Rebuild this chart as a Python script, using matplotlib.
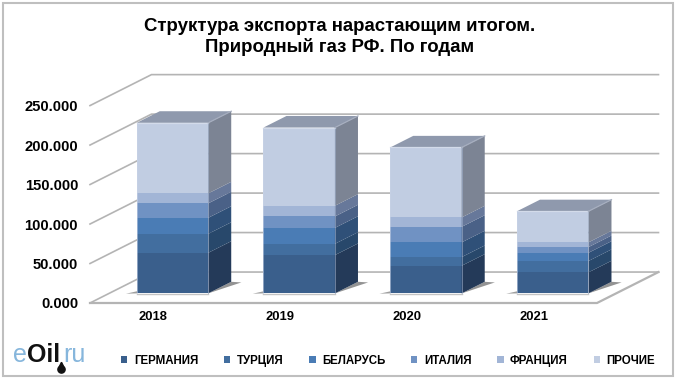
import matplotlib
matplotlib.use("Agg")
import matplotlib.pyplot as plt
from matplotlib.patches import Rectangle
from matplotlib.lines import Line2D
import numpy as np

years = ["2018", "2019", "2020", "2021"]
names = ["ГЕРМАНИЯ", "ТУРЦИЯ", "БЕЛАРУСЬ", "ИТАЛИЯ", "ФРАНЦИЯ", "ПРОЧИЕ"]
germany = [51.4, 48.5, 35.0, 26.6]
turkey = [24.0, 14.3, 11.0, 14.4]
belarus = [20.3, 20.2, 18.6, 10.4]
italy = [18.3, 14.5, 19.7, 7.2]
france = [12.6, 13.5, 11.9, 6.0]
others = [89.4, 99.0, 88.6, 39.4]
series = [germany, turkey, belarus, italy, france, others]
front = ["#3a5f8c", "#426e9f", "#4a7cb5", "#7092c3", "#a2b5d6", "#c1cde2"]
side = ["#243a59", "#28486b", "#2f5078", "#4a6187", "#67789a", "#7c8494"]
top_col = "#8f99ad"
ticks = [0, 50, 100, 150, 200, 250]
grid_c = "#b4b4b4"

plt.rcParams["font.family"] = ["Liberation Sans", "DejaVu Sans"]
W, H = 680, 384
fig = plt.figure(figsize=(W / 100, H / 100), dpi=100, facecolor="white")
ax = fig.add_axes([90 / W, (H - 303) / H, 568 / W, 229 / H])
ax.set_xlim(-0.5, -0.5 + 568 / 126.75)
ax.set_ylim(0, 290)
ax.patch.set_alpha(0)
for s in ax.spines.values():
    s.set_visible(False)

# oblique projection: one full depth of the floor in data units
DX, DY = 0.485, 39.2
D0, D1 = 0.31, 0.685
BW = 0.564
xl, xr = -0.5, 3.5


def pr(x, v, d):
    return x + d * DX, v + d * DY


# walls and floor
for t in ticks:
    a, b, c = pr(xl, t, 0), pr(xl, t, 1), pr(xr, t, 1)
    ax.plot([a[0], b[0], c[0]], [a[1], b[1], c[1]], color=grid_c, lw=1.2, zorder=1,
            clip_on=False, solid_joinstyle="miter")
ax.plot([xl, xr, pr(xr, 0, 1)[0]], [0, 0, pr(xr, 0, 1)[1]], color=grid_c, lw=1.6, zorder=1,
        clip_on=False)

# bars
xs = np.arange(len(years))
for i, x in enumerate(xs):
    l, r = x - BW / 2, x + BW / 2
    # floor shadows
    p1, p2, p3 = pr(r, 0, D0), pr(r + 0.09, 0, D1 - 0.02), pr(r, 0, D1)
    ax.fill([p1[0], p2[0], p3[0]], [p1[1], p2[1], p3[1]], color="#666666", alpha=0.7, lw=0, zorder=2)
    p1, p2, p3 = pr(l - 0.08, 0, D0 - 0.01), pr(l, 0, D0), pr(l, 0, D0 + 0.12)
    ax.fill([p1[0], p2[0], p3[0]], [p1[1], p2[1], p3[1]], color="#777777", alpha=0.7, lw=0, zorder=2)
    p1, p2 = pr(l, -1.0, D0), pr(r, -1.0, D0)
    ax.plot([p1[0], p2[0]], [p1[1], p2[1]], color="#c4c4c4", lw=1.0, zorder=2)
    bottom = 0.0
    for k, vals in enumerate(series):
        v = vals[i]
        ax.bar(pr(x, 0, D0)[0], v, BW, bottom=bottom + D0 * DY, color=front[k], lw=0, zorder=3)
        a = pr(r, bottom, D0); b = pr(r, bottom + v, D0); c = pr(r, bottom + v, D1); d = pr(r, bottom, D1)
        ax.fill([a[0], b[0], c[0], d[0]], [a[1], b[1], c[1], d[1]], color=side[k], lw=0, zorder=3)
        bottom += v
    a = pr(l, bottom, D0); b = pr(r, bottom, D0); c = pr(r, bottom, D1); d = pr(l, bottom, D1)
    ax.fill([a[0], b[0], c[0], d[0]], [a[1], b[1], c[1], d[1]], color=top_col, lw=0, zorder=3)
    ax.plot([a[0], b[0]], [a[1], b[1]], color="#d3dbea", lw=0.9, zorder=4)
    ax.plot([a[0], a[0]], [a[1], D0 * DY], color="#c9d3e6", lw=0.7, alpha=0.6, zorder=4)
    ax.plot([b[0], b[0]], [b[1], D0 * DY], color="#9fb0cc", lw=0.7, alpha=0.6, zorder=4)
    ax.plot([b[0], c[0]], [b[1], c[1]], color="#a6aebf", lw=0.9, zorder=4)

ax.set_yticks(ticks)
ax.set_yticklabels([f"{t}.000" for t in ticks], fontsize=10.6, fontweight="bold", color="black")
ax.set_xticks(xs)
ax.set_xticklabels(years, fontsize=9.4, fontweight="bold", color="black")
ax.tick_params(axis="y", length=0, pad=8.6)
ax.tick_params(axis="x", length=0, pad=5.5)

# title
fig.text(340 / W, 1 - 37 / H, "Структура экспорта нарастающим итогом.\nПриродный газ РФ. По годам",
         ha="center", va="center", fontsize=13.4, fontweight="bold", color="black", linespacing=1.2)

# legend
handles = [Rectangle((0, 0), 1, 1, facecolor=c, edgecolor="none") for c in front]
fig.legend(handles, names, ncol=6, loc="center", bbox_to_anchor=(388 / W, 1 - 361 / H), frameon=False,
           prop={"size": 8.3, "weight": "bold"}, handlelength=0.55, handleheight=0.55,
           handletextpad=0.55, columnspacing=2.25, borderpad=0, borderaxespad=0)

# logo
for txt, x, c, w in [("e", 13, "#86b6dc", "normal"), ("Oil", 27, "#111111", "bold"), ("ru", 63, "#86b6dc", "normal")]:
    fig.text(x / W, 1 - 362 / H, txt, fontsize=18, color=c, fontweight=w, ha="left", va="baseline",
             family="Liberation Sans")
fig.add_artist(Line2D([61 / W], [1 - 369 / H], marker="o", ms=5.2, color="#111111", transform=fig.transFigure))
fig.add_artist(Line2D([61 / W], [1 - 364 / H], marker="^", ms=3.2, color="#111111", transform=fig.transFigure))

# frame
fig.add_artist(Rectangle((3 / W, 1 - 376 / H), 670 / W, 373 / H, transform=fig.transFigure,
                         fill=False, edgecolor="#bfbfbf", lw=1.5))
fig.savefig("out.png", dpi=100)
